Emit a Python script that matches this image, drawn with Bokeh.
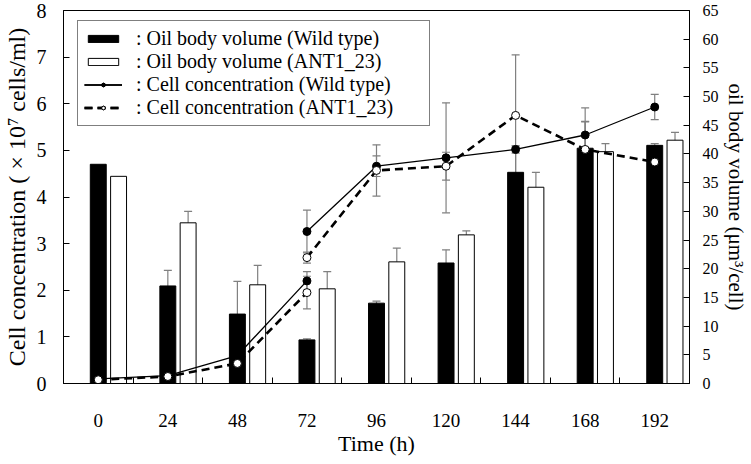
from bokeh.plotting import figure
from bokeh.models import (ColumnDataSource, Range1d, LinearAxis, FixedTicker,
                          SingleIntervalTicker, Whisker, TeeHead, Legend, LegendItem)
from bokeh.transform import dodge
from bokeh.embed import file_html
from bokeh.resources import INLINE

# sampling times (h)
hours = [0, 24, 48, 72, 96, 120, 144, 168, 192]
minor_ticks = [12, 36, 60, 84, 108, 132, 156, 180]

# oil body volume (um3/cell), right axis
oil_wt = [38.2, 17.0, 12.1, 7.6, 14.0, 21.0, 36.8, 41.0, 41.5]
oil_wt_err = [0, 2.7, 5.7, 0.2, 0.35, 2.3, 4.4, 4.6, 0.3]
oil_ant = [36.1, 28.0, 17.2, 16.5, 21.2, 25.9, 34.2, 40.4, 42.4]
oil_ant_err = [0, 2.0, 3.4, 3.0, 2.4, 0.7, 2.6, 1.4, 1.35]

# cell concentration (x10^7 cells/ml), left axis -- two runs meeting at 72 h
early_hours = [0, 24, 48, 72]
cells_wt_early = [0.10, 0.17, 0.60, 2.20]
cells_wt_early_err = [0, 0, 0, 0.20]
cells_ant_early = [0.08, 0.15, 0.43, 1.95]
cells_ant_early_err = [0, 0, 0, 0.35]

late_hours = [72, 96, 120, 144, 168, 192]
cells_wt_late = [3.26, 4.66, 4.84, 5.02, 5.33, 5.93]
cells_wt_late_err = [0.46, 0.22, 1.18, 0.08, 0.58, 0.27]
cells_ant_late = [2.70, 4.57, 4.66, 5.75, 5.02, 4.75]
cells_ant_late_err = [0.12, 0.55, 0.30, 1.30, 0.60, 0.27]

FONT = "Liberation Serif"
GRAY = "#808080"

p = figure(frame_width=626, frame_height=373, width=750, height=462,
           x_range=Range1d(-12, 204), y_range=Range1d(0, 8),
           output_backend="svg", toolbar_location=None,
           min_border_left=61, min_border_right=63, min_border_top=10, min_border_bottom=79)
p.extra_y_ranges = {"oil": Range1d(0, 65)}
p.xgrid.visible = False
p.ygrid.visible = False
p.outline_line_color = "black"
p.outline_line_width = 1

bars = ColumnDataSource(dict(hour=hours, wt=oil_wt, ant=oil_ant))
bar_wt = p.vbar(x="hour", top="wt", width=5.5, source=bars, y_range_name="oil",
                fill_color="black", line_color="black", line_width=1)
bar_ant = p.vbar(x=dodge("hour", 7, range=p.x_range), top="ant", width=5.5, source=bars,
                 y_range_name="oil", fill_color="white", line_color="black", line_width=1)


def add_err(xs, ys, errs, shift=0, range_name="default"):
    keep = [i for i in range(len(xs)) if errs[i] > 0]
    src = ColumnDataSource(dict(x=[xs[i] + shift for i in keep],
                                lo=[ys[i] - errs[i] for i in keep],
                                hi=[ys[i] + errs[i] for i in keep]))
    w = Whisker(base="x", lower="lo", upper="hi", source=src, dimension="height",
                line_color=GRAY, line_width=1.2, y_range_name=range_name,
                upper_head=TeeHead(size=8, line_color=GRAY, line_width=1.2),
                lower_head=TeeHead(size=8, line_color=GRAY, line_width=1.2))
    p.add_layout(w)


add_err(hours, oil_wt, oil_wt_err, 0, "oil")
add_err(hours, oil_ant, oil_ant_err, 7, "oil")
add_err(early_hours, cells_wt_early, cells_wt_early_err)
add_err(early_hours, cells_ant_early, cells_ant_early_err)
add_err(late_hours, cells_wt_late, cells_wt_late_err)
add_err(late_hours, cells_ant_late, cells_ant_late_err)

wt_lines = []
ant_lines = []
for xs, ys in [(early_hours, cells_wt_early), (late_hours, cells_wt_late)]:
    l = p.line(xs, ys, line_color="black", line_width=1.3)
    s = p.scatter(xs, ys, marker="circle", size=8, fill_color="black", line_color="black")
    wt_lines += [l, s]
for xs, ys in [(early_hours, cells_ant_early), (late_hours, cells_ant_late)]:
    l = p.line(xs, ys, line_color="black", line_width=2.6, line_dash="8 5")
    s = p.scatter(xs, ys, marker="circle", size=8, fill_color="white", line_color="black",
                  line_width=1)
    ant_lines += [l, s]

# axes
p.xaxis.ticker = FixedTicker(ticks=hours, minor_ticks=minor_ticks)
p.xaxis.major_tick_in = 0
p.xaxis.major_tick_out = 0
p.xaxis.minor_tick_in = 6
p.xaxis.minor_tick_out = 0
p.xaxis.major_label_standoff = 30
p.xaxis.axis_label = "Time (h)"
p.xaxis.axis_label_standoff = 1

p.yaxis.ticker = SingleIntervalTicker(interval=1)
p.yaxis.axis_label = "Cell concentration ( \u00d7 10\u2077 cells/ml)"
p.yaxis.major_label_standoff = 17
p.yaxis.axis_label_standoff = 4

right = LinearAxis(y_range_name="oil", ticker=SingleIntervalTicker(interval=5),
                   axis_label="oil body volume (\u03bcm\u00b3/cell)")
p.add_layout(right, "right")
right.major_label_standoff = 13
right.axis_label_standoff = 2

for ax in [p.xaxis[0], p.yaxis[0], right]:
    ax.axis_line_color = "black"
    ax.major_tick_line_color = "black"
    ax.minor_tick_line_color = "black"
    ax.major_label_text_font = FONT
    ax.major_label_text_color = "black"
    ax.axis_label_text_font = FONT
    ax.axis_label_text_font_style = "normal"
    ax.axis_label_text_color = "black"
    ax.axis_label_text_font_size = "22px"
for ax in [p.yaxis[0], right]:
    ax.major_tick_in = 6
    ax.major_tick_out = 0
    ax.minor_tick_in = 0
    ax.minor_tick_out = 0
p.yaxis[0].axis_label_text_font_size = "24px"
p.yaxis[0].major_label_text_font_size = "20px"
p.xaxis[0].major_label_text_font_size = "19px"
right.major_label_text_font_size = "16px"
right.axis_label_text_font_size = "21px"

pad = "\u00a0" * 6
legend = Legend(items=[
    LegendItem(label=": Oil body volume (Wild type)" + pad, renderers=[bar_wt]),
    LegendItem(label=": Oil body volume (ANT1_23)" + pad, renderers=[bar_ant]),
    LegendItem(label=": Cell concentration (Wild type)" + pad, renderers=wt_lines),
    LegendItem(label=": Cell concentration (ANT1_23)" + pad, renderers=ant_lines),
], location=(14, 257))
legend.label_text_font = FONT
legend.label_text_font_size = "20px"
legend.label_text_color = "black"
legend.label_height = 20
legend.glyph_width = 38
legend.glyph_height = 9
legend.spacing = 0
legend.padding = 6
legend.margin = 0
legend.label_standoff = 14
legend.border_line_color = "black"
legend.border_line_width = 1
legend.background_fill_alpha = 1
p.add_layout(legend)

open("out.html", "w").write(file_html(p, INLINE))
